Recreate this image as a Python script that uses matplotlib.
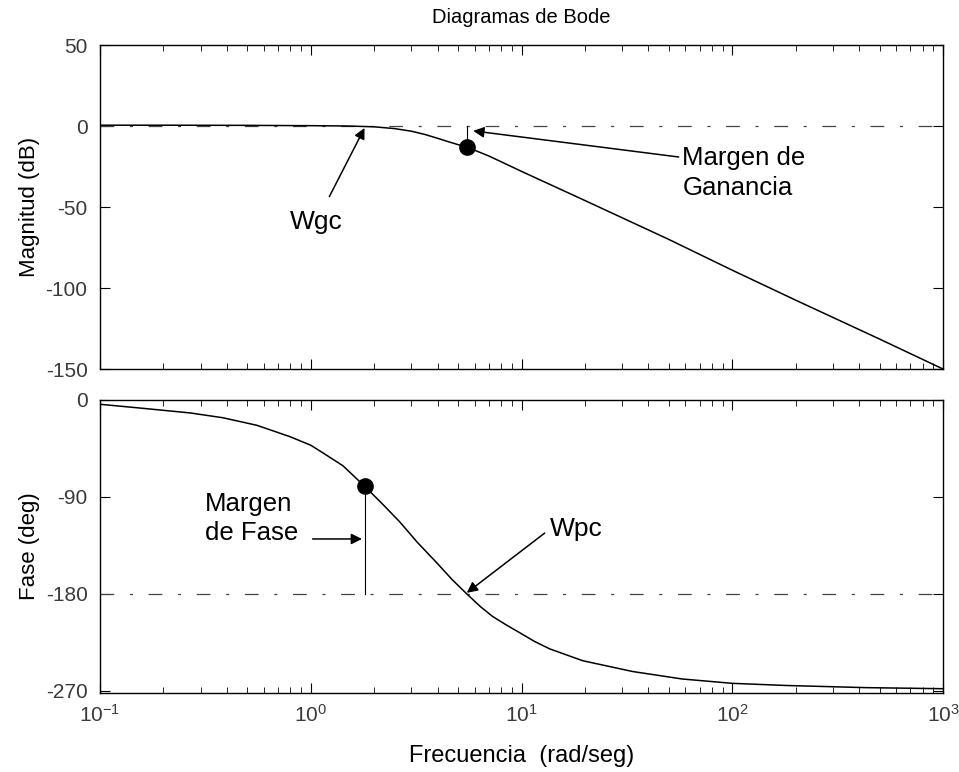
import numpy as np
import matplotlib.pyplot as plt
from matplotlib.ticker import LogLocator, NullFormatter

plt.rcParams['font.family'] = ['Liberation Sans', 'DejaVu Sans']
plt.rcParams['mathtext.fontset'] = 'custom'
plt.rcParams['mathtext.rm'] = 'Liberation Sans'
plt.rcParams['axes.unicode_minus'] = False

# Magnitude curve
w_mag = [0.1, 0.2, 0.5, 1.0, 1.5, 2.0, 2.5, 3.0, 3.5, 4.0, 4.5, 5.0, 5.5, 7.0,
         10.0, 20.0, 50.0, 100.0, 200.0, 500.0, 1000.0]
mag_db = [0.5, 0.5, 0.4, 0.2, 0.0, -0.5, -1.6, -3.2, -5.3, -7.6, -9.7, -11.5,
          -13.0, -18.5, -28.0, -46.0, -70.0, -89.0, -107.5, -131.5, -150.0]

# Phase curve
w_fase = [0.1, 0.155, 0.267, 0.383, 0.555, 0.795, 1.0, 1.14, 1.42, 1.8, 2.2,
          2.64, 3.2, 4.0, 4.7, 5.5, 6.4, 7.3, 8.5, 9.8, 11.5, 13.6, 19.5,
          33.6, 58.0, 100.0, 180.0, 431.0, 1000.0]
fase_deg = [-4, -7.5, -12, -16.5, -23.5, -34, -42, -49, -61, -80, -97,
            -113, -132, -152, -167, -180, -192, -201, -209, -216, -224, -231,
            -242, -252, -259, -263, -265, -267, -268]

# Crossover points
w_gm, mag_gm = 5.5, -13.0
w_pm, fase_pm = 1.8, -80.0

fig = plt.figure(figsize=(9.59, 7.72), dpi=100)
ax1 = fig.add_axes([0.1043, 0.522, 0.879, 0.4197])
ax2 = fig.add_axes([0.1043, 0.1023, 0.879, 0.3796])

dashdot = (0, (11, 12.5, 2.5, 12.5))

# ---- magnitude ----
ax1.axhline(0, color='#444444', lw=0.9, ls=dashdot)
ax1.plot(w_mag, mag_db, color='black', lw=1.1)
ax1.plot([w_gm, w_gm], [mag_gm, 0], color='black', lw=0.8)
ax1.plot(w_gm, mag_gm, 'o', color='black', ms=11)
ax1.set_xscale('log')
ax1.set_xlim(0.1, 1000)
ax1.set_ylim(-150, 50)
ax1.set_yticks([50, 0, -50, -100, -150])
ax1.set_ylabel('Magnitud (dB)', fontsize=16, labelpad=4)
ax1.set_title('Diagramas de Bode', fontsize=14.5, pad=16)
ax1.xaxis.set_major_formatter(NullFormatter())

ax1.annotate('Wgc', xy=(1.8, -1.2), xytext=(1.06, -59.5), fontsize=19,
             ha='center', va='center',
             arrowprops=dict(arrowstyle='-|>', color='black', lw=1.1,
                             shrinkA=9, shrinkB=0, mutation_scale=16))
ax1.annotate('Margen de\nGanancia', xy=(5.9, -3), xytext=(58, -12.5),
             fontsize=18.5, ha='left', va='top', linespacing=1.3,
             arrowprops=dict(arrowstyle='-|>', color='black', lw=1.1,
                             shrinkA=0, shrinkB=0, mutation_scale=16,
                             relpos=(-0.03, 0.8)))

# ---- phase ----
ax2.axhline(-180, color='#444444', lw=0.9, ls=dashdot)
ax2.plot(w_fase, fase_deg, color='black', lw=1.1)
ax2.plot([w_pm, w_pm], [fase_pm, -180], color='black', lw=0.8)
ax2.plot(w_pm, fase_pm, 'o', color='black', ms=11)
ax2.set_xscale('log')
ax2.set_xlim(0.1, 1000)
ax2.set_ylim(-272, 0)
ax2.set_yticks([0, -90, -180, -270])
ax2.set_ylabel('Fase (deg)', fontsize=16, labelpad=4)
ax2.set_xlabel('Frecuencia  (rad/seg)', fontsize=17, labelpad=14)

ax2.text(0.315, -110, 'Margen\nde Fase', fontsize=18.5, ha='left',
         va='center', linespacing=1.3)
ax2.annotate('', xy=(1.75, -129), xytext=(1.02, -129),
             arrowprops=dict(arrowstyle='-|>', color='black', lw=1.1,
                             shrinkA=0, shrinkB=0, mutation_scale=16))
ax2.annotate('Wpc', xy=(5.5, -179), xytext=(13.6, -120), fontsize=19,
             ha='left', va='center',
             arrowprops=dict(arrowstyle='-|>', color='black', lw=1.1,
                             shrinkA=2, shrinkB=0, mutation_scale=16,
                             relpos=(0, 0.5)))

for ax in (ax1, ax2):
    ax.xaxis.set_major_locator(LogLocator(base=10, numticks=10))
    ax.xaxis.set_minor_locator(LogLocator(base=10, subs=np.arange(2, 10), numticks=10))
    ax.tick_params(which='both', direction='in', top=True, right=True,
                   labelsize=15, labelcolor='#3a3a3a')
    ax.tick_params(which='major', length=7)
    ax.tick_params(which='minor', length=4)
    ax.tick_params(axis='y', pad=9)
    ax.tick_params(axis='x', pad=8)
    for s in ax.spines.values():
        s.set_linewidth(1.0)

fig.savefig('out.png', dpi=100)
